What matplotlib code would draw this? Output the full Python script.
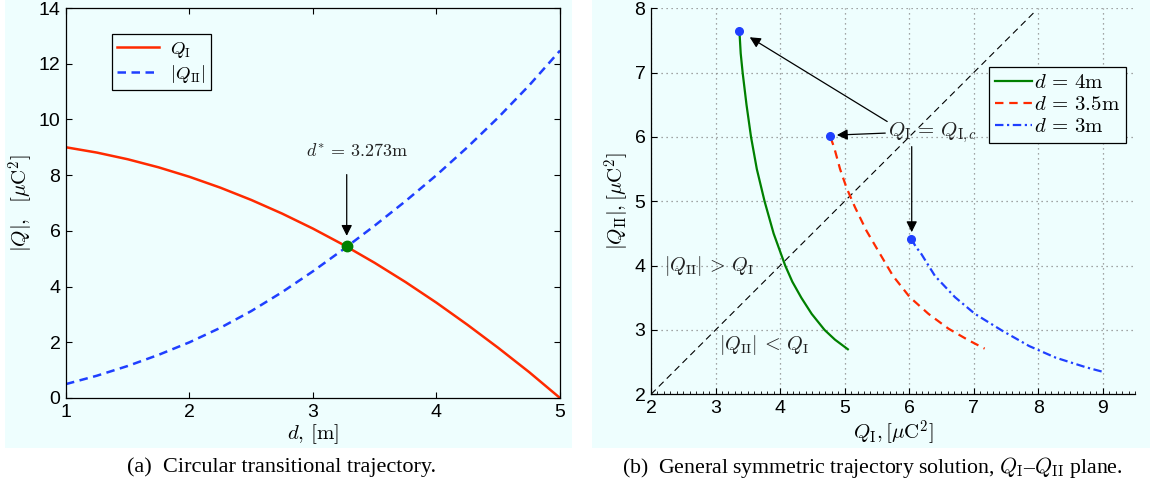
import matplotlib
matplotlib.use("Agg")
import matplotlib.pyplot as plt
from matplotlib.patches import Rectangle
from matplotlib.ticker import MultipleLocator

plt.rcParams['mathtext.fontset'] = 'cm'
plt.rcParams['font.family'] = ['Liberation Sans', 'DejaVu Sans']

# ---------------- data: panel (a) ----------------
d_vals = [1.0, 1.25, 1.5, 1.75, 2.0, 2.25, 2.5, 2.75, 3.0, 3.25, 3.5, 3.75, 4.0, 4.25, 4.5, 4.75, 5.0]
q1_vals = [9.0, 8.81, 8.57, 8.28, 7.94, 7.55, 7.11, 6.62, 6.08, 5.49, 4.85, 4.16, 3.42, 2.63, 1.80, 0.93, 0.0]
q2_vals = [0.5, 0.80, 1.15, 1.55, 2.0, 2.52, 3.12, 3.80, 4.55, 5.35, 6.19, 7.07, 8.0, 9.0, 10.07, 11.22, 12.47]
d_star = 3.273
q_star = 5.45

# ---------------- data: panel (b) ----------------
g_x = [3.37, 3.39, 3.42, 3.48, 3.55, 3.64, 3.76, 3.90, 4.08, 4.19, 4.33, 4.49, 4.69, 4.85, 5.05]
g_y = [7.65, 7.30, 7.00, 6.50, 6.00, 5.50, 5.00, 4.50, 4.00, 3.75, 3.50, 3.25, 3.00, 2.85, 2.70]
r_x = [4.78, 4.84, 4.93, 5.03, 5.16, 5.34, 5.55, 5.75, 6.01, 6.30, 6.61, 6.92, 7.17]
r_y = [6.00, 5.83, 5.50, 5.21, 4.91, 4.54, 4.18, 3.84, 3.51, 3.25, 3.02, 2.84, 2.71]
b_x = [6.03, 6.10, 6.19, 6.40, 6.71, 7.02, 7.44, 7.86, 8.27, 8.74, 9.00]
b_y = [4.42, 4.30, 4.18, 3.84, 3.51, 3.25, 2.99, 2.75, 2.57, 2.42, 2.35]
crit_x = [3.37, 4.78, 6.03]
crit_y = [7.65, 6.01, 4.42]
diag = [2.0, 7.95]

W, H = 1151, 491
fig = plt.figure(figsize=(W / 100, H / 100), dpi=100)
fig.patch.set_facecolor('white')

bg = '#eefefe'
fig.patches.append(Rectangle((5 / W, 1 - 448 / H), 567 / W, 448 / H, transform=fig.transFigure,
                             facecolor=bg, edgecolor='none', zorder=-10))
fig.patches.append(Rectangle((592 / W, 1 - 448 / H), 558 / W, 448 / H, transform=fig.transFigure,
                             facecolor=bg, edgecolor='none', zorder=-10))

RED = '#ff2a00'
BLUE = '#1f3fff'
GREEN = '#008000'
TXT = '#222222'

# ---------------- panel (a) ----------------
ax1 = fig.add_axes([66 / W, 1 - 398 / H, 494 / W, 390 / H])
ax1.set_facecolor(bg)
ax1.plot(d_vals, q1_vals, color=RED, lw=1.8, label=r'$Q_{\mathrm{I}}$')
ax1.plot(d_vals, q2_vals, color=BLUE, lw=1.8, linestyle=(0, (3.4, 2.2)), label=r'$|Q_{\mathrm{II}}|$')
ax1.plot([d_star], [q_star], 'o', color=GREEN, ms=7.5, zorder=5)
ax1.set_xlim(1, 5)
ax1.set_ylim(0, 14)
ax1.set_xticks([1, 2, 3, 4, 5])
ax1.set_yticks([0, 2, 4, 6, 8, 10, 12, 14])
ax1.tick_params(direction='in', top=True, right=True, length=4, width=0.8, labelsize=14, pad=4)
for s in ax1.spines.values():
    s.set_linewidth(0.9)
ax1.set_xlabel(r'$d,\,[\mathrm{m}]$', fontsize=15, labelpad=1)
ax1.set_ylabel(r'$|Q|,\ \ [\mu\mathrm{C}^2]$', fontsize=15, labelpad=2)
leg1 = ax1.legend(loc='upper left', bbox_to_anchor=(0.0925, 0.933), borderaxespad=0, fontsize=13.5,
                  handlelength=2.2, fancybox=False, edgecolor='black', framealpha=1, facecolor=bg,
                  borderpad=0.3, labelspacing=0.15, handletextpad=0.6)
leg1.get_frame().set_linewidth(0.9)
ax1.annotate('', xy=(d_star, 5.82), xytext=(d_star, 8.02),
             arrowprops=dict(arrowstyle='-|>', color='black', lw=0.9, mutation_scale=16,
                             shrinkA=0, shrinkB=0))
ax1.text(3.36, 8.84, r'$d^{*}\,=\,3.273\mathrm{m}$', fontsize=13, ha='center', va='center', color=TXT)

# ---------------- panel (b) ----------------
ax2 = fig.add_axes([651 / W, 1 - 394.3 / H, 484 / W, 386 / H])
ax2.set_facecolor(bg)
ax2.grid(True, linestyle=(0, (1, 3)), color='#888888', lw=0.9)
ax2.set_axisbelow(True)
ax2.plot(diag, diag, color='black', lw=0.8, linestyle=(0, (6, 4)))
ax2.plot(g_x, g_y, color=GREEN, lw=1.6, label=r'$d\, =\, 4\mathrm{m}$')
ax2.plot(r_x, r_y, color=RED, lw=1.6, linestyle=(0, (3.8, 2.6)), label=r'$d\, =\, 3.5\mathrm{m}$')
ax2.plot(b_x, b_y, color=BLUE, lw=1.6, linestyle=(0, (3.8, 1.6, 1.0, 1.6)), label=r'$d\, =\, 3\mathrm{m}$')
ax2.plot(crit_x, crit_y, 'o', color=BLUE, ms=5.5, zorder=5)
ax2.set_xlim(2, 9.5)
ax2.set_ylim(2, 8)
ax2.set_xticks([2, 3, 4, 5, 6, 7, 8, 9])
ax2.set_yticks([2, 3, 4, 5, 6, 7, 8])
ax2.xaxis.set_minor_locator(MultipleLocator(0.1))
ax2.tick_params(direction='in', length=4, width=0.8, labelsize=14, pad=4)
ax2.tick_params(which='minor', direction='in', length=2, width=0.6)
ax2.spines['top'].set_visible(False)
ax2.spines['right'].set_visible(False)
ax2.spines['left'].set_linewidth(0.9)
ax2.spines['bottom'].set_linewidth(0.9)
ax2.set_xlabel(r'$Q_{\mathrm{I}},[\mu\mathrm{C}^2]$', fontsize=15, labelpad=1)
ax2.set_ylabel(r'$|Q_{\mathrm{II}}|,[\mu\mathrm{C}^2]$', fontsize=15, labelpad=2)
leg2 = ax2.legend(loc='upper left', bbox_to_anchor=(0.698, 0.848), borderaxespad=0, fontsize=15,
                  handlelength=1.75, fancybox=False, edgecolor='black', framealpha=1, facecolor=bg,
                  borderpad=0.3, labelspacing=0.15, handletextpad=0.1)
leg2.get_frame().set_linewidth(0.9)

ap = dict(arrowstyle='-|>', color='black', lw=0.9, mutation_scale=16, shrinkA=0, shrinkB=0)
ax2.annotate('', xy=(3.53, 7.55), xytext=(5.66, 6.24), arrowprops=ap)
ax2.annotate('', xy=(4.88, 6.03), xytext=(5.63, 6.06), arrowprops=ap)
ax2.annotate('', xy=(6.04, 4.52), xytext=(6.04, 5.85), arrowprops=ap)
ax2.text(5.67, 6.07, r'$Q_{\mathrm{I}}\,=\,Q_{\mathrm{I},c}$', fontsize=15, ha='left', va='center', color=TXT)
ax2.text(2.2, 4.0, r'$|Q_{\mathrm{II}}|\,>\,Q_{\mathrm{I}}$', fontsize=14.5, ha='left', va='center', color=TXT)
ax2.text(3.05, 2.76, r'$|Q_{\mathrm{II}}|\,<\,Q_{\mathrm{I}}$', fontsize=14.5, ha='left', va='center', color=TXT)

# ---------------- captions ----------------
fig.text(282 / W, 1 - 467 / H, '(a)  Circular transitional trajectory.', fontsize=16,
         family=['Liberation Serif', 'DejaVu Serif'], ha='center', va='center')
fig.text(872 / W, 1 - 467 / H,
         r'(b)  General symmetric trajectory solution, $Q_{\mathrm{I}}$–$Q_{\mathrm{II}}$ plane.',
         fontsize=15.7, family=['Liberation Serif', 'DejaVu Serif'], ha='center', va='center')

fig.savefig('out.png', dpi=100, facecolor='white')
